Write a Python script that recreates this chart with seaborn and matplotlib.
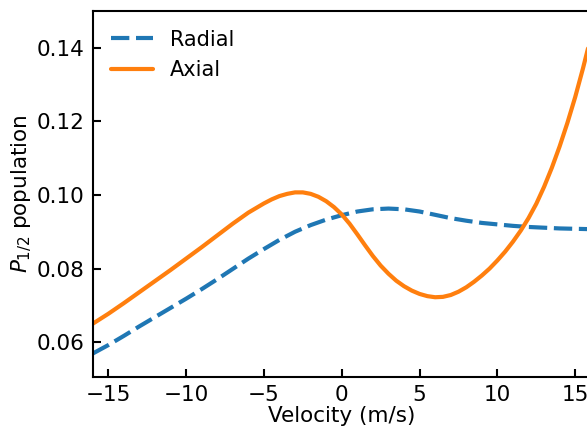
import numpy as np
import pandas as pd
import matplotlib
matplotlib.use("Agg")
import matplotlib.pyplot as plt
import seaborn as sns

# Radial (dashed blue) curve
radial_v = [-16, -15, -14, -13, -12, -11, -10, -9, -8, -7, -6, -5, -4, -3, -2, -1,
            0, 1, 2, 3, 4, 5, 6, 7, 8, 9, 10, 11, 12, 13, 14, 15, 16]
radial_p = [0.0569, 0.0592, 0.0617, 0.0643, 0.0668, 0.0693, 0.0718, 0.0744, 0.0771,
            0.0799, 0.0827, 0.0853, 0.0878, 0.0900, 0.0918, 0.0933, 0.0945, 0.0955,
            0.0961, 0.0963, 0.0961, 0.0955, 0.0946, 0.0937, 0.0930, 0.0924, 0.0920,
            0.0916, 0.0913, 0.0911, 0.0909, 0.0908, 0.0907]

# Axial (solid orange) curve
axial_v = [-16, -15, -14, -13, -12, -11, -10, -9, -8, -7, -6, -5, -4.5, -4, -3.5, -3,
           -2.5, -2, -1.5, -1, -0.5, 0, 0.5, 1, 1.5, 2, 2.5, 3, 3.5, 4, 4.5, 5, 5.5,
           6, 6.5, 7, 7.5, 8, 8.5, 9, 9.5, 10, 10.5, 11, 11.5, 12, 12.5, 13, 13.5,
           14, 14.5, 15, 15.5, 16]
axial_p = [0.0650, 0.0677, 0.0706, 0.0736, 0.0766, 0.0796, 0.0827, 0.0858, 0.0890,
           0.0922, 0.0952, 0.0977, 0.0988, 0.0997, 0.1003, 0.1007, 0.1007, 0.1003,
           0.0995, 0.0983, 0.0967, 0.0947, 0.0922, 0.0893, 0.0863, 0.0834, 0.0808,
           0.0786, 0.0767, 0.0752, 0.0740, 0.0731, 0.0725, 0.0722, 0.0723, 0.0728,
           0.0737, 0.0749, 0.0764, 0.0781, 0.0800, 0.0822, 0.0846, 0.0873, 0.0903,
           0.0937, 0.0976, 0.1022, 0.1074, 0.1132, 0.1196, 0.1266, 0.1344, 0.1428]

x_ticks = [-15, -10, -5, 0, 5, 10, 15]
y_ticks = [0.06, 0.08, 0.10, 0.12, 0.14]

sns.set_style("ticks")
plt.rcParams["font.family"] = ["DejaVu Sans"]
plt.rcParams["mathtext.fontset"] = "dejavusans"
for k in ["text.color", "axes.labelcolor", "xtick.color", "ytick.color",
          "axes.edgecolor"]:
    plt.rcParams[k] = "black"

fig = plt.figure(figsize=(5.87, 4.26), dpi=100)
ax = fig.add_axes([0.158, 0.1157, 0.8484, 0.8585])

df_r = pd.DataFrame({"v": radial_v, "p": radial_p})
df_a = pd.DataFrame({"v": axial_v, "p": axial_p})

sns.lineplot(data=df_r, x="v", y="p", ax=ax, color="#1f77b4", lw=3,
             dashes=False, label="Radial")
sns.lineplot(data=df_a, x="v", y="p", ax=ax, color="#ff7f0e", lw=3,
             label="Axial")
ax.lines[0].set_dashes((4.4, 1.6))

ax.set_xlim(-16, 16)
ax.set_ylim(0.0506, 0.150)
ax.set_xticks(x_ticks)
ax.set_yticks(y_ticks)
ax.set_xticklabels([f"{t}".replace("-", "\u2212") for t in x_ticks])
ax.set_yticklabels([f"{t:.2f}" for t in y_ticks])

for s in ["left", "bottom", "top", "right"]:
    ax.spines[s].set_visible(True)
    ax.spines[s].set_linewidth(1.5)
    ax.spines[s].set_color("black")

ax.tick_params(direction="in", length=6, width=1.5, labelsize=15.5, pad=6,
               colors="black")
ax.set_xlabel("Velocity (m/s)", fontsize=15.5, labelpad=1, color="black")
ax.set_ylabel(r"$P_{1/2}$ population", fontsize=15.5, labelpad=2, color="black")

leg = ax.legend(loc="upper left", frameon=False, fontsize=15)
leg.get_lines()[0].set_dashes((4.4, 1.6))
for t in leg.get_texts():
    t.set_color("black")

fig.savefig("out.png", dpi=100)
